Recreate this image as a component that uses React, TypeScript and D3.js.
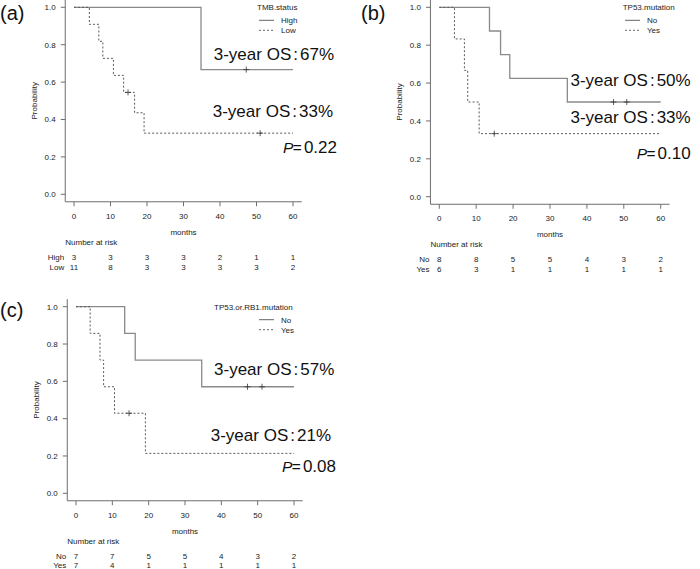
import React from "react";
import * as d3 from "d3";

// ---------- data ----------
const monthTicks = [0, 10, 20, 30, 40, 50, 60];
const probTicks = [0, 0.2, 0.4, 0.6, 0.8, 1.0];

// Panel (a) TMB.status
const aHighTimes = [0, 34.8];
const aHighSurv = [1, 0.667];
const aHighCensor = [47.2];
const aLowTimes = [0, 4.2, 6.8, 7.9, 10.8, 13.6, 16.6, 19.2];
const aLowSurv = [1, 0.909, 0.818, 0.727, 0.636, 0.545, 0.436, 0.327];
const aLowCensor = [14.8, 51.0];
const aRiskHigh = [3, 3, 3, 3, 2, 1, 1];
const aRiskLow = [11, 8, 3, 3, 3, 3, 2];
const aGroups = ["High", "Low"];
const aOS = ["67%", "33%"];
const aP = "0.22";

// Panel (b) TP53.mutation
const bNoTimes = [0, 13.6, 16.6, 19.1, 34.7];
const bNoSurv = [1, 0.875, 0.75, 0.625, 0.5];
const bNoCensor = [47.2, 50.8];
const bYesTimes = [0, 4.1, 6.8, 7.7, 10.8];
const bYesSurv = [1, 0.833, 0.667, 0.5, 0.333];
const bYesCensor = [14.9];
const bRiskNo = [8, 8, 5, 5, 4, 3, 2];
const bRiskYes = [6, 3, 1, 1, 1, 1, 1];
const bGroups = ["No", "Yes"];
const bOS = ["50%", "33%"];
const bP = "0.10";

// Panel (c) TP53.or.RB1.mutation
const cNoTimes = [0, 13.4, 16.3, 34.6];
const cNoSurv = [1, 0.857, 0.714, 0.571];
const cNoCensor = [47.2, 51.2];
const cYesTimes = [0, 3.9, 6.6, 7.6, 10.6, 19.1];
const cYesSurv = [1, 0.857, 0.714, 0.571, 0.429, 0.214];
const cYesCensor = [14.6];
const cRiskNo = [7, 7, 5, 5, 4, 3, 2];
const cRiskYes = [7, 4, 1, 1, 1, 1, 1];
const cGroups = ["No", "Yes"];
const cOS = ["57%", "21%"];
const cP = "0.08";

// ---------- drawing ----------
const FONT = "'Liberation Sans', Arial, Helvetica, sans-serif";
const SOLID = "#8a8a8a";
const DASH = "#5a5a5a";
const AXIS = "#6e6e6e";
const TXT = "#222";

type Curve = { times: number[]; surv: number[]; censor: number[] };

function survAt(c: Curve, t: number) {
  let s = c.surv[0];
  for (let i = 0; i < c.times.length; i++) if (c.times[i] <= t) s = c.surv[i];
  return s;
}

type PanelProps = {
  label: string;
  labelX: number;
  labelY: number;
  x0: number;
  x60: number;
  y1: number;
  y0: number;
  curves: Curve[];
  groups: string[];
  risks: number[][];
  rowGap: number;
  legendTitle: string;
  legendTitleX: number;
  legendX: number;
  os: string[];
  osPos: [number, number][];
  p: string;
  pPos: [number, number];
  probX: number;
};

function Panel(props: PanelProps) {
  const { x0, x60, y1, y0 } = props;
  const x = d3.scaleLinear().domain([0, 60]).range([x0, x60]);
  const y = d3.scaleLinear().domain([0, 1]).range([y0, y1]);
  const left = x(-2.4);
  const right = x(62.4);
  const bottom = y(-0.04);
  const top = y(1.04);
  const line = d3
    .line<[number, number]>()
    .x((d) => x(d[0]))
    .y((d) => y(d[1]))
    .curve(d3.curveStepAfter);
  const styles = [
    { stroke: SOLID, dash: undefined as string | undefined, w: 1.3 },
    { stroke: DASH, dash: "2,2", w: 1 },
  ];
  const legendTop = y1;
  return (
    <g fontFamily={FONT}>
      <text x={props.labelX} y={props.labelY} fontSize={20} fill="#111">
        {props.label}
      </text>
      {/* axes (L box) */}
      <line x1={left} x2={left} y1={top} y2={bottom} stroke={AXIS} strokeWidth={1} />
      <line x1={left} x2={right} y1={bottom} y2={bottom} stroke={AXIS} strokeWidth={1} />
      {probTicks.map((t) => (
        <g key={"y" + t}>
          <line x1={left - 4.5} x2={left} y1={y(t)} y2={y(t)} stroke={AXIS} />
          <text x={left - 9.5} y={y(t) + 2.8} fontSize={8} textAnchor="end" fill={TXT}>
            {t.toFixed(1)}
          </text>
        </g>
      ))}
      {monthTicks.map((t) => (
        <g key={"x" + t}>
          <line x1={x(t)} x2={x(t)} y1={bottom} y2={bottom + 4.5} stroke={AXIS} />
          <text x={x(t)} y={bottom + 17} fontSize={8} textAnchor="middle" fill={TXT}>
            {t}
          </text>
        </g>
      ))}
      <text x={x(30)} y={bottom + 33} fontSize={8} textAnchor="middle" fill={TXT}>
        months
      </text>
      <text
        transform={`translate(${props.probX},${(y0 + y1) / 2}) rotate(-90)`}
        fontSize={8}
        textAnchor="middle"
        fill={TXT}
      >
        Probability
      </text>
      {/* curves */}
      {props.curves.map((c, i) => {
        const pts: [number, number][] = c.times.map((t, k) => [t, c.surv[k]] as [number, number]);
        pts.push([60, c.surv[c.surv.length - 1]]);
        return (
          <g key={"c" + i}>
            <path
              d={line(pts) || ""}
              fill="none"
              stroke={styles[i].stroke}
              strokeWidth={styles[i].w}
              strokeDasharray={styles[i].dash}
            />
            {c.censor.map((t) => {
              const cx = x(t);
              const cy = y(survAt(c, t));
              return (
                <g key={"m" + t} stroke="#333" strokeWidth={0.8}>
                  <line x1={cx - 3} x2={cx + 3} y1={cy} y2={cy} />
                  <line x1={cx} x2={cx} y1={cy - 3} y2={cy + 3} />
                </g>
              );
            })}
          </g>
        );
      })}
      {/* legend */}
      <text x={props.legendTitleX} y={legendTop + 3} fontSize={8} fill={TXT}>
        {props.legendTitle}
      </text>
      {props.groups.map((g, i) => (
        <g key={"l" + g}>
          <line
            x1={props.legendX}
            x2={props.legendX + 15}
            y1={legendTop + 13 + i * 10}
            y2={legendTop + 13 + i * 10}
            stroke="#555"
            strokeDasharray={i === 0 ? undefined : "2,2"}
            strokeWidth={0.9}
          />
          <text x={props.legendX + 22} y={legendTop + 16 + i * 10} fontSize={8} fill={TXT}>
            {g}
          </text>
        </g>
      ))}
      {/* annotations */}
      {props.os.map((v, i) => (
        <text
          key={"os" + i}
          x={props.osPos[i][0]}
          y={props.osPos[i][1]}
          fontSize={17}
          textAnchor="end"
          fill="#111"
        >
          <tspan>3-year OS</tspan>
          <tspan dx={2}>:</tspan>
          <tspan dx={2}>{v}</tspan>
        </text>
      ))}
      <text x={props.pPos[0]} y={props.pPos[1]} fontSize={17} textAnchor="end" fill="#111">
        <tspan fontStyle="italic" fontSize={15.5}>P</tspan>
        <tspan dx={-0.5} fontSize={15.5}>=</tspan>
        <tspan dx={2}>{props.p}</tspan>
      </text>
      {/* number at risk */}
      <text x={left} y={bottom + 43} fontSize={8} fill={TXT}>
        Number at risk
      </text>
      {props.groups.map((g, i) => (
        <g key={"r" + g}>
          <text
            x={left - 1}
            y={bottom + 58 + i * props.rowGap}
            fontSize={8}
            textAnchor="end"
            fill={TXT}
          >
            {g}
          </text>
          {props.risks[i].map((n, k) => (
            <text
              key={k}
              x={x(monthTicks[k])}
              y={bottom + 58 + i * props.rowGap}
              fontSize={8}
              textAnchor="middle"
              fill={TXT}
            >
              {n}
            </text>
          ))}
        </g>
      ))}
    </g>
  );
}

export default function App() {
  return (
    <svg
      width={700}
      height={569}
      style={{ position: "absolute", left: 0, top: 0, background: "#fff" }}
    >
      <rect x={0} y={0} width={700} height={569} fill="#fff" />
      <Panel
        label="(a)"
        labelX={0}
        labelY={20}
        x0={74}
        x60={293}
        y1={7.3}
        y0={194.3}
        curves={[
          { times: aHighTimes, surv: aHighSurv, censor: aHighCensor },
          { times: aLowTimes, surv: aLowSurv, censor: aLowCensor },
        ]}
        groups={aGroups}
        risks={[aRiskHigh, aRiskLow]}
        rowGap={10}
        legendTitle="TMB.status"
        legendTitleX={257}
        legendX={259}
        os={aOS}
        osPos={[
          [334, 60],
          [333, 117],
        ]}
        p={aP}
        pPos={[337, 152.6]}
        probX={37}
      />
      <Panel
        label="(b)"
        labelX={361}
        labelY={20}
        x0={439.3}
        x60={660.7}
        y1={7.3}
        y0={196.7}
        curves={[
          { times: bNoTimes, surv: bNoSurv, censor: bNoCensor },
          { times: bYesTimes, surv: bYesSurv, censor: bYesCensor },
        ]}
        groups={bGroups}
        risks={[bRiskNo, bRiskYes]}
        rowGap={10}
        legendTitle="TP53.mutation"
        legendTitleX={622.7}
        legendX={625}
        os={bOS}
        osPos={[
          [690.7, 86],
          [690.7, 123.3],
        ]}
        p={bP}
        pPos={[690.7, 159.3]}
        probX={402}
      />
      <Panel
        label="(c)"
        labelX={0}
        labelY={317}
        x0={76}
        x60={294}
        y1={306.7}
        y0={493.3}
        curves={[
          { times: cNoTimes, surv: cNoSurv, censor: cNoCensor },
          { times: cYesTimes, surv: cYesSurv, censor: cYesCensor },
        ]}
        groups={cGroups}
        risks={[cRiskNo, cRiskYes]}
        rowGap={8.8}
        legendTitle="TP53.or.RB1.mutation"
        legendTitleX={214}
        legendX={259}
        os={cOS}
        osPos={[
          [334.3, 375],
          [331, 440.7],
        ]}
        p={cP}
        pPos={[336, 471.7]}
        probX={39}
      />
    </svg>
  );
}
